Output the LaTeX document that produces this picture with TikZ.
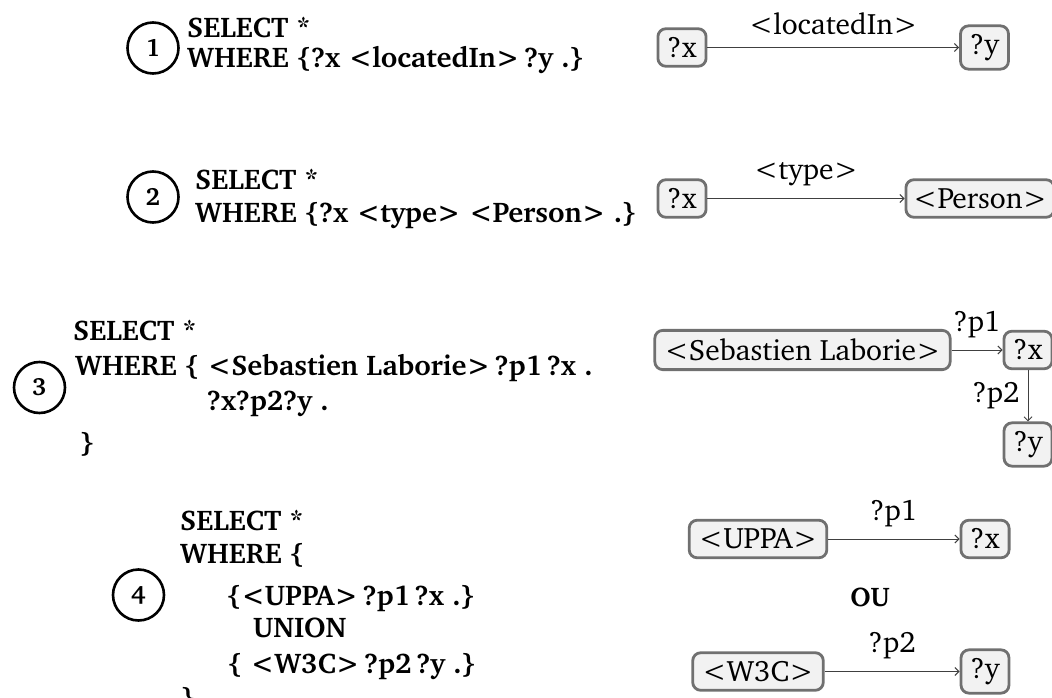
\documentclass[tikz,border=0pt]{standalone}
\usepackage[T1]{fontenc}
\usepackage{charter}
\usetikzlibrary{arrows.meta}
\definecolor{boxfill}{HTML}{F2F2F2}
\definecolor{boxgray}{HTML}{707070}
\definecolor{edgegray}{HTML}{404040}
\tikzset{
  qtext/.style={anchor=base west, inner sep=0pt, font=\fontsize{28.5}{32}\selectfont\bfseries},
  numcirc/.style={circle, draw, line width=2.6pt, minimum size=51pt, inner sep=0pt, font=\fontsize{25}{25}\selectfont\bfseries},
  gnode/.style={draw=boxgray, fill=boxfill, line width=2.8pt, rounded corners=8pt, inner xsep=9.5pt, inner ysep=8.5pt, font=\fontsize{29.5}{32}\selectfont},
  edge/.style={line width=1pt, draw=edgegray, -{Straight Barb[length=4pt,width=8pt]}},
  elabel/.style={font=\fontsize{29.5}{32}\selectfont, inner sep=2pt, text=black},
  oulabel/.style={font=\fontsize{27}{30}\selectfont\bfseries, inner sep=0pt}
}
\begin{document}
\begin{tikzpicture}[x=1pt,y=-1pt]
\useasboundingbox (0,0) rectangle (1052,698);
\clip (0,0) rectangle (1052,698);
% row 1
\node[numcirc] (c1) at (153,48) {1};
\node[qtext] (q1a) at (187,38) {SELECT *};
\node[qtext] (q1b) at (187,68) {WHERE \{?x <locatedIn>\,?y .\}};
\node[gnode] (r1x) at (682,47.5) {?x};
\node[gnode] (r1y) at (984.5,47.5) {?y};
\draw[edge] (r1x) -- node[elabel, above=10pt] (l1) {<locatedIn>} (r1y);
% row 2
\node[numcirc] (c2) at (153,197) {2};
\node[qtext] (q2a) at (195,189) {SELECT *};
\node[qtext] (q2b) at (195,222) {WHERE \{?x <type> <Person> .\}};
\node[gnode] (r2x) at (682,198.5) {?x};
\node[gnode, inner xsep=7pt] (r2p) at (980,198.5) {<Person>};
\draw[edge] (r2x) -- node[elabel, above=10pt] (l2) {<type>} (r2p);
% row 3
\node[numcirc] (c3) at (39.5,387.5) {3};
\node[qtext] (q3a) at (73,340) {SELECT *};
\node[qtext] (q3b) at (75,375) {WHERE \{ <Sebastien Laborie>\,?p1\,?x .};
\node[qtext] (q3c) at (207,410) {?x?p2?y .};
\node[qtext] (q3d) at (80,452) {\}};
\node[gnode] (r3s) at (802.5,350) {<Sebastien Laborie>};
\node[gnode] (r3x) at (1028,350) {?x};
\node[gnode] (r3y) at (1028,444.5) {?y};
\draw[edge] (r3s) -- node[elabel, above=10pt] (l3a) {?p1} (r3x);
\draw[edge] (r3x) -- node[elabel, left=6pt] (l3b) {?p2} (r3y);
% row 4
\node[numcirc] (c4) at (138.5,595) {4};
\node[qtext] (q4a) at (180,530) {SELECT *};
\node[qtext] (q4b) at (180,563) {WHERE \{};
\node[qtext] (q4c) at (227,605) {\{<UPPA>\,?p1\,?x .\}};
\node[qtext] (q4d) at (253,637) {UNION};
\node[qtext] (q4e) at (228,673) {\{ <W3C>\,?p2\,?y .\}};
\node[qtext] (q4f) at (181,707) {\}};
\node[gnode] (r4u) at (758,539) {<UPPA>};
\node[gnode] (r4x) at (985,539) {?x};
\node[oulabel] (ou) at (870,597) {OU};
\node[gnode] (r4w) at (758,671.5) {<W3C>};
\node[gnode] (r4y) at (985,671.5) {?y};
\draw[edge] (r4u) -- node[elabel, above=10pt] (l4a) {?p1} (r4x);
\draw[edge] (r4w) -- node[elabel, above=10pt] (l4b) {?p2} (r4y);
\end{tikzpicture}
\end{document}
